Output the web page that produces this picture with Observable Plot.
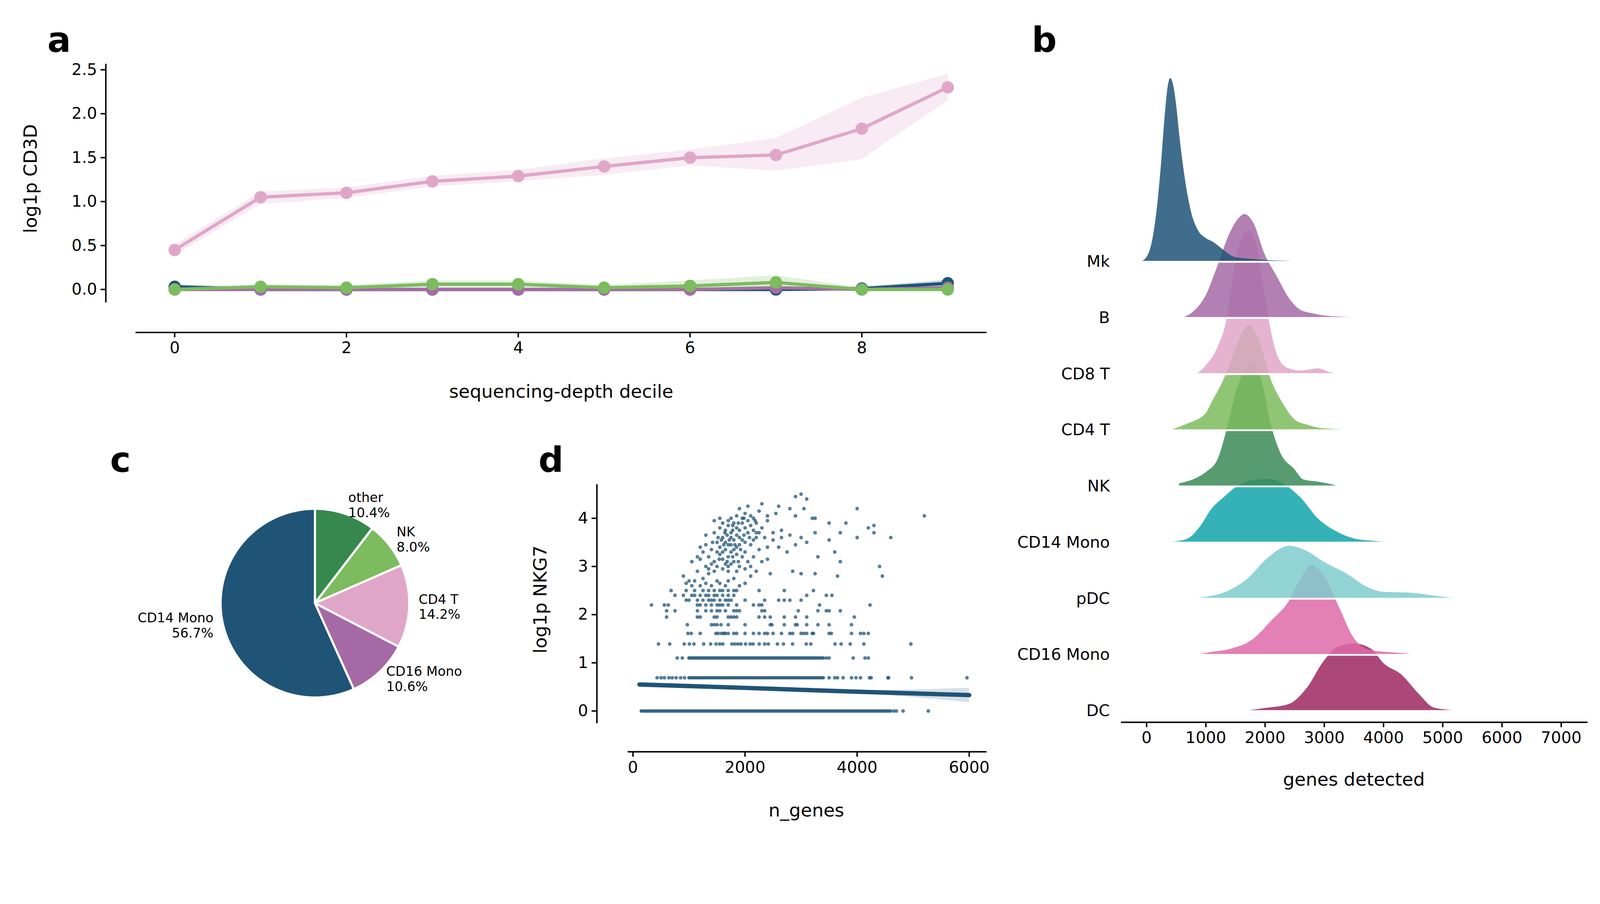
<!DOCTYPE html>
<html><head><meta charset="utf-8">
<script src="https://cdn.jsdelivr.net/npm/d3@7"></script>
<script src="https://cdn.jsdelivr.net/npm/@observablehq/plot@0.6"></script>
<style>
html,body{margin:0;padding:0;background:#fff;overflow:hidden;}
#c{position:relative;width:4392px;height:2314px;background:#fff;font-family:"DejaVu Sans";transform-origin:0 0;}
#c svg{position:absolute;left:0;top:0;max-width:none!important;}
.lt{position:absolute;font:bold 96px "DejaVu Sans";line-height:1;}
</style></head><body>
<div id="c">
<div class="lt" style="left:130px;top:62px">a</div>
<div class="lt" style="left:2832px;top:62px">b</div>
<div class="lt" style="left:302px;top:1214px">c</div>
<div class="lt" style="left:1478px;top:1214px">d</div>
</div>
<script>
const deciles = [0,1,2,3,4,5,6,7,8,9];
const pinkMean = [0.45,1.05,1.10,1.23,1.29,1.40,1.50,1.53,1.83,2.30];
const pinkLo   = [0.39,0.97,1.04,1.17,1.23,1.30,1.41,1.35,1.48,2.15];
const pinkHi   = [0.51,1.11,1.16,1.29,1.36,1.49,1.59,1.72,2.18,2.45];
const blueMean = [0.03,0.00,0.00,0.00,0.00,0.00,0.00,0.00,0.01,0.07];
const blueLo   = [0.00,0.00,0.00,0.00,0.00,0.00,0.00,0.00,0.00,0.02];
const blueHi   = [0.06,0.02,0.01,0.01,0.01,0.01,0.01,0.02,0.03,0.11];
const purpMean = [0.00,0.00,0.00,0.00,0.00,0.00,0.00,0.02,0.00,0.02];
const greenMean= [0.00,0.03,0.02,0.06,0.06,0.02,0.04,0.08,0.00,0.00];
const greenLo  = [0.00,0.01,0.00,0.02,0.02,0.00,0.00,0.01,0.00,0.00];
const greenHi  = [0.02,0.06,0.05,0.10,0.10,0.05,0.10,0.16,0.02,0.02];
const aYTicks = [0,0.5,1,1.5,2,2.5];
const aXTicks = [0,2,4,6,8];

const ridgeNames = ["Mk","B","CD8 T","CD4 T","NK","CD14 Mono","pDC","CD16 Mono","DC"];
const ridgeColors = ["#1f5477","#a56aa6","#e0a6c8","#7cbb5e","#3a8a56","#12a5aa","#7fcbcf","#de6aa8","#9c2860"];
const mkX=[-100,0,100,200,250,300,350,400,450,500,560,625,700,750,875,1000,1125,1250,1400,1500,1750,2000,2500,2750];
const mkH=[0,0.08,0.4,1.2,1.8,2.5,3.05,3.27,3.15,2.8,2.2,1.65,1.15,0.9,0.55,0.42,0.35,0.25,0.13,0.08,0.05,0.03,0.01,0];
const bX=[600,800,1000,1200,1400,1600,1650,1800,2000,2200,2400,2600,2800,3000,3500,3700];
const bH=[0,0.12,0.4,0.93,1.5,1.82,1.85,1.7,1.12,0.74,0.36,0.14,0.08,0.04,0.01,0];
const cd8X=[850,1000,1200,1350,1500,1600,1720,1850,2000,2100,2250,2400,2600,2900,3100,3300];
const cd8H=[0,0.15,0.48,0.96,2.0,2.4,2.55,2.3,1.4,0.77,0.24,0.1,0.06,0.1,0.03,0];
const cd4X=[450,700,1000,1100,1300,1500,1650,1750,1900,2100,2300,2500,2700,3000,3800];
const cd4H=[0.02,0.12,0.3,0.5,0.9,1.45,1.8,1.87,1.6,0.9,0.48,0.19,0.1,0.03,0];
const nkX=[550,800,1000,1200,1350,1500,1650,1800,1950,2100,2250,2500,2650,2900,3100,3250];
const nkH=[0.05,0.13,0.25,0.48,1.0,1.65,2.05,2.2,1.85,1.1,0.62,0.3,0.12,0.08,0.04,0];
const cd14X=[250,500,700,900,1100,1300,1500,1750,2100,2300,2600,2900,3200,3500,3800,4300];
const cd14H=[0,0.02,0.07,0.28,0.6,0.8,0.98,1.1,1.13,1.05,0.8,0.42,0.2,0.07,0.03,0];
const pdcX=[650,1000,1400,1700,2000,2200,2400,2700,3000,3400,3700,4000,4500,4800,5100,5300];
const pdcH=[0,0.03,0.15,0.35,0.68,0.85,0.94,0.85,0.65,0.43,0.22,0.12,0.1,0.06,0.02,0];
const cd16X=[850,1100,1400,1800,2100,2400,2600,2780,3000,3250,3500,3800,4300,4600];
const cd16H=[0,0.05,0.1,0.28,0.6,0.95,1.35,1.6,1.4,0.85,0.3,0.08,0.03,0];
const dcX=[1650,2000,2400,2700,3000,3250,3500,3800,4000,4300,4600,4850,5200,5400];
const dcH=[0,0.05,0.12,0.4,0.9,1.15,1.2,1.1,0.85,0.65,0.3,0.06,0.01,0];
const bXTicks=[0,1000,2000,3000,4000,5000,6000,7000];

const pieNames=["other","NK","CD4 T","CD16 Mono","CD14 Mono"];
const piePct=[10.4,8.0,14.2,10.6,56.7];
const pieColors=["#36884f","#7cbb5e","#e0a6c8","#a56aa6","#1f5477"];

const dRunLevels=[0,0.69,1.10];
const dRunStart=[150,1000,1000];
const dRunEnd=[4600,3400,3400];
const dRows = [
 [0,[4650,4700,4820,5270]],
 [0.69,[430,500,560,640,700,770,850,920,3500,3600,3650,3750,3900,3980,4060,4220,4250,4550,4560,4970,5960]],
 [1.10,[790,880,3450,3500,3930,4140,4200]],
 [1.39,[455,655,915,1007,1088,1262,1386,1483,1548,1602,1765,1819,1873,1927,2009,2090,2144,2253,2350,2415,2577,2686,2848,3092,3173,3606,3714,3877,4120,4959]],
 [1.61,[980,1040,1200,1480,1520,1580,1620,1650,1700,1800,1850,2000,2150,2250,2350,2400,2500,2650,2800,2850,3000,3050,3100,3200,3220,3500,3540,3900,4060,4120,4200]],
 [1.79,[970,1400,1450,1500,1570,1700,2000,2450,2480,2700,2900,2930,3100,3300,3500,3900]],
 [1.95,[600,1150,1200,1450,1500,1700,1750,1800,1850,2250,2350,2450,2700,2900,3100,3950]],
 [2.08,[600,750,1150,1300,1400,1500,1550,1650,1800,1850,1900,2300,2350,2950,3300,3450,3500,3700]],
 [2.20,[330,560,630,1150,1200,1300,1400,1500,1550,1600,1700,1850,2150,2250,2300,3330,4230]],
 [2.30,[950,1000,1150,1250,1350,1400,1450,1550,1650,1700,1750,2000,2350,2600,2700,2800,3000]],
 [2.40,[750,900,1050,1100,1200,1300,1350,1450,1500,1600,1700,1800,3100,3450,3550]],
 [2.50,[680,950,1100,1250,1350,1450,1550,1600,1700,1800,1850,2250,2700,3220]]
];
const dCluster=[[900,2.8],[1000,2.7],[1050,2.6],[1200,2.6],[950,2.65],[1100,2.7],[1250,2.75],[1300,2.65],[1400,2.6],[1500,2.7],[1550,2.65],[1650,2.6],[1700,2.7],[1800,2.75],[1900,2.6],[2000,2.65],[2100,2.8],
[1150,2.9],[1300,3.0],[1350,2.85],[1450,2.9],[1500,3.0],[1600,2.95],[1700,2.9],[1750,3.05],[1850,2.9],[1900,3.0],[2000,2.95],[2100,3.0],[2200,2.9],[2450,2.85],[2850,2.9],[3000,2.85],
[1050,3.1],[1200,3.15],[1350,3.2],[1450,3.1],[1550,3.25],[1600,3.15],[1650,3.35],[1700,3.2],[1750,3.3],[1800,3.1],[1850,3.25],[1950,3.2],[2050,3.1],[2150,3.2],[2300,3.1],[2400,3.15],
[1200,3.4],[1300,3.45],[1400,3.35],[1500,3.5],[1550,3.4],[1600,3.6],[1650,3.5],[1700,3.45],[1750,3.6],[1800,3.55],[1850,3.4],[1900,3.6],[2000,3.5],[2100,3.45],[2200,3.6],[2250,3.35],[2400,3.4],[2500,3.55],[2600,3.4],[2650,3.6],
[1300,3.65],[1450,3.7],[1550,3.8],[1650,3.75],[1700,3.85],[1750,3.7],[1800,3.9],[1850,3.8],[1900,3.75],[1950,3.9],[2000,3.8],[2050,3.95],[2100,3.85],[2150,3.75],[2200,3.9],[2300,3.8],[2400,3.95],[2500,3.7],[2650,3.75],[2800,3.65],
[1450,3.95],[1550,4.0],[1750,4.0],[1850,4.05],[1900,4.2],[2000,4.1],[2050,4.25],[2150,4.0],[2250,4.15],[2300,4.3],[2400,4.05],[2550,4.1],[2600,4.25],[2800,4.2],[2900,4.45],[3000,4.5],[3100,4.4],[2900,4.05],[3200,4.0],[3050,4.2],
[3250,3.7],[3000,3.6],[3100,3.5],[2900,3.45],[2750,3.3],[3300,3.2],[3250,2.85],[3700,3.7],[3700,3.1],[3600,3.3],[3500,3.9],[4000,4.2],[3800,3.9],[4300,3.7],[4200,3.8],[4300,3.85],[4000,3.6],[4600,3.6],[4400,3.0],[4450,2.8],[3650,2.8],[5200,4.05],[3250,4.0],[3500,3.55],
[1600,3.3],[1700,3.0],[1800,3.35],[1900,3.45],[2000,3.3],[1650,3.05],[1750,3.45],[1850,3.65],[1950,3.55],[2050,3.7],[2150,3.55],[2250,3.7],[2350,3.6],[1600,3.9],[1700,3.95],[1950,4.0],[2100,4.05],[2200,3.7],[1500,3.3],[1400,3.05],[1350,2.95],[1250,3.3],[1150,3.2],
[1580,3.55],[1680,3.65],[1780,3.75],[1880,3.9],[1980,3.65],[2080,3.6],[1720,3.55],[1820,3.45],[1920,3.35],[1620,3.45],[1520,3.6],[1420,3.5],[1780,3.2],[1880,3.1],[1680,3.1],[1980,4.0],[2180,3.95],[1780,3.85],[1640,3.7],[1540,3.15]];
const regX=[115,2000,4000,6000];
const regMean=[0.55,0.48,0.40,0.33];
const regLo=[0.52,0.46,0.37,0.18];
const regHi=[0.58,0.50,0.43,0.48];
const dXTicks=[0,2000,4000,6000];
const dYTicks=[0,1,2,3,4];

const W=4392,H=2314, FS=44, LFS=50;
const c=document.getElementById("c");
c.style.transform=`scale(${window.innerWidth/W})`;
const base={width:W,height:H,marginTop:0,marginRight:0,style:{background:"transparent",fontFamily:"DejaVu Sans",fontSize:FS+"px",color:"#000",overflow:"visible",maxWidth:"none"}};
const intf=d3.format("d");

{
const xr=[479,2601], yr=[794,191];
const sx=d3.scaleLinear([0,9],xr), sy=d3.scaleLinear([0,2.5],yr);
const rows=deciles.map((d,i)=>({d,pm:pinkMean[i],pl:pinkLo[i],ph:pinkHi[i],bm:blueMean[i],bl:blueLo[i],bh:blueHi[i],um:purpMean[i],gm:greenMean[i],gl:greenLo[i],gh:greenHi[i]}));
const series=[["pm","pl","ph","#e0a6c8"],["bm","bl","bh","#1f5477"],["um",null,null,"#a56aa6"],["gm","gl","gh","#7cbb5e"]];
const marks=[];
for(const [m,l,h,col] of series){
  if(l) marks.push(Plot.areaY(rows,{x:"d",y1:l,y2:h,fill:col,fillOpacity:0.22}));
  marks.push(Plot.line(rows,{x:"d",y:m,stroke:col,strokeWidth:9}));
  marks.push(Plot.dot(rows,{x:"d",y:m,fill:col,r:17}));
}
marks.push(Plot.ruleX([sx.invert(290)],{y1:sy.invert(830),y2:sy.invert(175),stroke:"#000",strokeWidth:4}));
marks.push(Plot.ruleY([sy.invert(912)],{x1:sx.invert(372),x2:sx.invert(2708),stroke:"#000",strokeWidth:4}));
marks.push(Plot.axisY(aYTicks,{tickFormat:d3.format(".1f"),tickSize:14,tickPadding:10,strokeWidth:4,label:null}));
marks.push(Plot.axisX(aXTicks,{tickFormat:intf,tickSize:14,tickPadding:12,strokeWidth:4,label:null}));
marks.push(Plot.text(["sequencing-depth decile"],{x:sx.invert(1540),y:sy.invert(1075),text:d=>d,fontSize:LFS}));
marks.push(Plot.text(["log1p CD3D"],{x:sx.invert(84),y:sy.invert(490),text:d=>d,fontSize:LFS,rotate:-90}));
c.append(Plot.plot({...base,marginLeft:290,marginBottom:H-912,x:{domain:[0,9],range:xr},y:{domain:[0,2.5],range:yr},marks}));
}

{
const xr=[3147,4285], yr=[1951,718];
const sx=d3.scaleLinear([0,7000],xr), sy=d3.scaleLinear([0,8],yr);
const curves=[[mkX,mkH],[bX,bH],[cd8X,cd8H],[cd4X,cd4H],[nkX,nkH],[cd14X,cd14H],[pdcX,pdcH],[cd16X,cd16H],[dcX,dcH]];
const marks=[];
for(let i=curves.length-1;i>=0;i--){
  const b=8-i, [xs,hs]=curves[i];
  const pts=xs.map((x,j)=>({x,b,t:b+hs[j]}));
  marks.push(Plot.areaY(pts,{x:"x",y1:"b",y2:"t",fill:ridgeColors[i],fillOpacity:0.85,curve:"monotone-x"}));
  marks.push(Plot.ruleY([b],{x1:xs[0]-30,x2:xs[xs.length-1]+30,stroke:"#fff",strokeWidth:5}));
}
marks.push(Plot.ruleY([sy.invert(1982)],{x1:sx.invert(3077),x2:sx.invert(4358),stroke:"#000",strokeWidth:4}));
marks.push(Plot.axisX(bXTicks,{tickFormat:intf,tickSize:14,tickPadding:12,strokeWidth:4,label:null}));
marks.push(Plot.text(ridgeNames,{x:sx.invert(3046),y:(d,i)=>8-i,text:d=>d,textAnchor:"end",fontSize:FS}));
marks.push(Plot.text(["genes detected"],{x:sx.invert(3716),y:sy.invert(2140),text:d=>d,fontSize:LFS}));
c.append(Plot.plot({...base,marginLeft:3077,marginBottom:H-1982,x:{domain:[0,7000],range:xr},y:{domain:[0,8],range:yr,axis:null},marks}));
}

{
const cx=864, cy=1655, R=259;
const xr=[cx-R,cx+R], yr=[cy+R,cy-R];
const arcs=d3.pie().sort(null).startAngle(0).endAngle(2*Math.PI)(piePct);
const poly=[], labels=[];
arcs.forEach((a,i)=>{
  poly.push({k:i,x:0,y:0});
  const n=Math.max(4,Math.ceil((a.endAngle-a.startAngle)*60));
  for(let j=0;j<=n;j++){const t=a.startAngle+(a.endAngle-a.startAngle)*j/n; poly.push({k:i,x:Math.sin(t),y:Math.cos(t)});}
  poly.push({k:i,x:0,y:0});
  const m=(a.startAngle+a.endAngle)/2;
  labels.push({x:1.1*Math.sin(m),y:1.1*Math.cos(m),t:pieNames[i]+"\n"+piePct[i].toFixed(1)+"%"});
});
const marks=[
  Plot.line(poly,{x:"x",y:"y",z:"k",fill:d=>pieColors[d.k],stroke:"#fff",strokeWidth:6,strokeLinejoin:"round"}),
  Plot.text(labels.filter(d=>d.x>0),{x:"x",y:"y",text:"t",textAnchor:"start",fontSize:36,lineHeight:1.15}),
  Plot.text(labels.filter(d=>d.x<=0),{x:"x",y:"y",text:"t",textAnchor:"end",fontSize:36,lineHeight:1.15})
];
c.append(Plot.plot({...base,marginLeft:0,marginBottom:0,x:{domain:[-1,1],range:xr,axis:null},y:{domain:[-1,1],range:yr,axis:null},marks}));
}

{
const xr=[1737,2660], yr=[1951,1422];
const sx=d3.scaleLinear([0,6000],xr), sy=d3.scaleLinear([0,4],yr);
const pts=[];
dRows.forEach(([y,xs])=>xs.forEach(x=>pts.push({x,y})));
dCluster.forEach(([x,y])=>pts.push({x,y}));
const runs=dRunLevels.map((y,i)=>({y,x1:dRunStart[i],x2:dRunEnd[i]}));
const reg=regX.map((x,i)=>({x,m:regMean[i],l:regLo[i],h:regHi[i]}));
const col="#1f5477";
const marks=[
  Plot.ruleY(runs,{y:"y",x1:"x1",x2:"x2",stroke:col,strokeOpacity:0.9,strokeWidth:9,strokeLinecap:"round"}),
  Plot.dot(pts,{x:"x",y:"y",r:5,fill:col,fillOpacity:0.75}),
  Plot.areaY(reg,{x:"x",y1:"l",y2:"h",fill:col,fillOpacity:0.18,curve:"natural"}),
  Plot.line(reg,{x:"x",y:"m",stroke:col,strokeWidth:12}),
  Plot.ruleX([sx.invert(1638)],{y1:sy.invert(1985),y2:sy.invert(1329),stroke:"#000",strokeWidth:4}),
  Plot.ruleY([sy.invert(2063)],{x1:sx.invert(1723),x2:sx.invert(2708),stroke:"#000",strokeWidth:4}),
  Plot.axisY(dYTicks,{tickFormat:intf,tickSize:14,tickPadding:10,strokeWidth:4,label:null}),
  Plot.axisX(dXTicks,{tickFormat:intf,tickSize:14,tickPadding:12,strokeWidth:4,label:null}),
  Plot.text(["n_genes"],{x:sx.invert(2213),y:sy.invert(2224),text:d=>d,fontSize:LFS}),
  Plot.text(["log1p NKG7"],{x:sx.invert(1484),y:sy.invert(1645),text:d=>d,fontSize:LFS,rotate:-90})
];
c.append(Plot.plot({...base,marginLeft:1638,marginBottom:H-2063,x:{domain:[0,6000],range:xr},y:{domain:[0,4],range:yr},marks}));
}
</script>
</body></html>
